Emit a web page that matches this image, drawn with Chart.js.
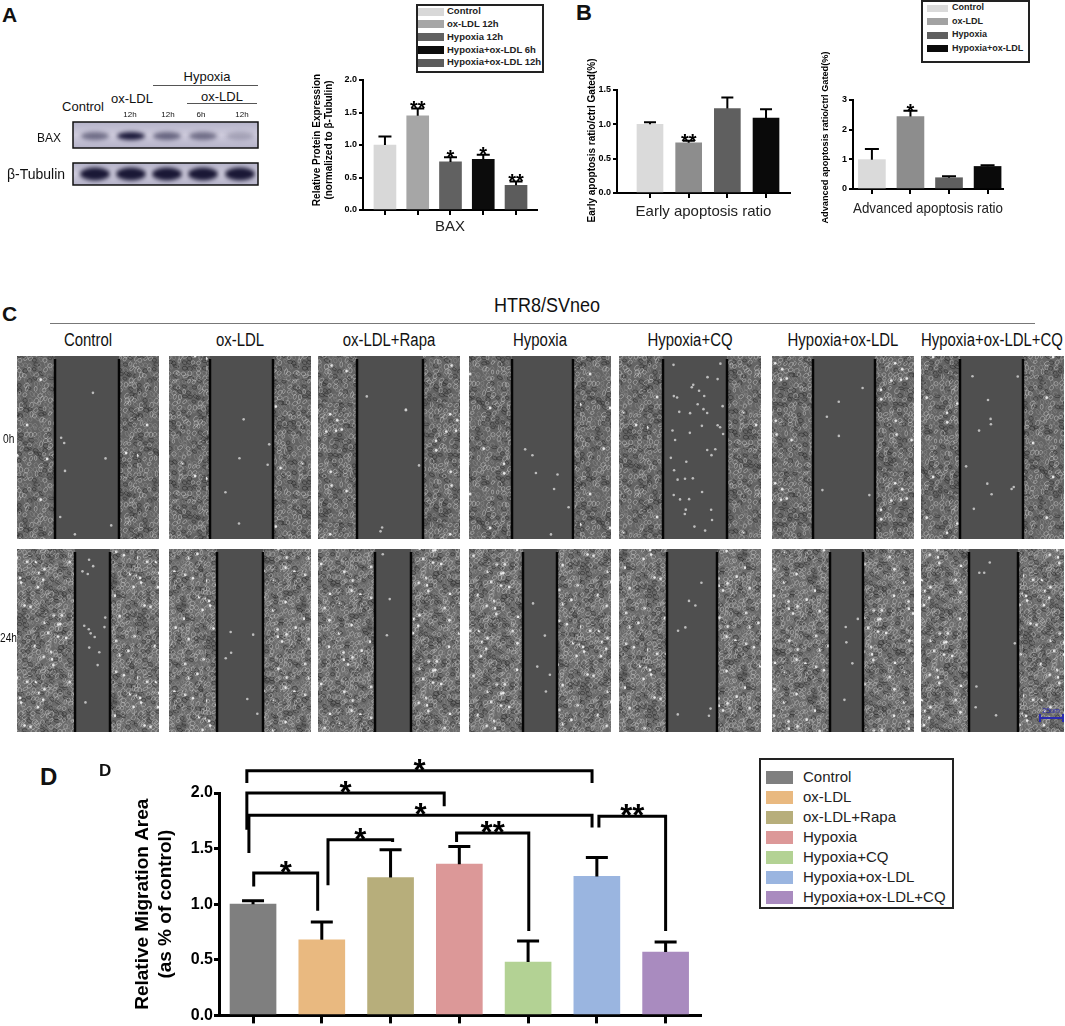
<!DOCTYPE html>
<html>
<head>
<meta charset="utf-8">
<script src="https://cdn.jsdelivr.net/npm/chart.js@4.4.1/dist/chart.umd.min.js"></script>
<style>
    body { margin: 0; background: #fff; }
    #fig { position: relative; width: 1065px; height: 1026px; overflow: hidden; font-family: "Liberation Sans", Arial, sans-serif; color: #111; }
    #fig canvas, .t, .legend, .hline { position: absolute; }
    .t { white-space: nowrap; line-height: 1; }
    .c { transform: translateX(-50%); }
    .b { font-weight: bold; }
    .nc { transform: translateX(-50%) scaleX(0.83); }
    .nl { transform: scaleX(0.85); transform-origin: left center; }
    .legend { border: 2px solid #222; box-sizing: border-box; background: #fff; }
    .legend div { position: absolute; white-space: nowrap; }
    .hline { height: 0; }
</style>
</head>
<body>
<div id="fig">
    <canvas id="blot" width="270" height="80" style="left:0;top:115px"></canvas>
    <canvas id="photos" width="1065" height="390" style="left:0;top:350px"></canvas>
    <canvas id="chartA" width="250" height="170" style="left:295px;top:70px"></canvas>
    <canvas id="chartB1" width="225" height="190" style="left:575px;top:40px"></canvas>
    <canvas id="chartB2" width="205" height="190" style="left:810px;top:40px"></canvas>
    <canvas id="chartD" width="620" height="281" style="left:100px;top:745px"></canvas>
    <div id="legA" class="legend" style="left:416px;top:4px;width:128px;height:69px"></div>
    <div id="legB" class="legend" style="left:921px;top:0;width:109px;height:63px"></div>
    <div id="legD" class="legend" style="left:759px;top:758px;width:195px;height:151px"></div>
    <div class="hline" style="left:153px;top:85px;width:105px;border-top:1px solid #555"></div>
    <div class="hline" style="left:187px;top:103px;width:70px;border-top:1px solid #555"></div>
    <div class="hline" style="left:50px;top:323px;width:985px;border-top:1.5px solid #777"></div>
</div>
<script>
// panel A - BAX western blot quantification
const bax_groups = ["Control", "ox-LDL 12h", "Hypoxia 12h", "Hypoxia+ox-LDL 6h", "Hypoxia+ox-LDL 12h"];
const bax_values = [1.00, 1.45, 0.74, 0.78, 0.38];
const bax_errors = [0.13, 0.11, 0.07, 0.07, 0.06];
const bax_marks = ["", "**", "*", "*", "**"];
const bax_ticks = [0, 0.5, 1.0, 1.5, 2.0];
const bax_colors = ["#d8d8d8", "#a6a6a6", "#616161", "#0c0c0c", "#5c5c5c"];

// panel B - apoptosis ratios
const apo_groups = ["Control", "ox-LDL", "Hypoxia", "Hypoxia+ox-LDL"];
const early_values = [1.00, 0.73, 1.23, 1.09];
const early_errors = [0.03, 0.03, 0.16, 0.13];
const early_marks = ["", "**", "", ""];
const early_ticks = [0, 0.5, 1.0, 1.5];
const adv_values = [0.99, 2.44, 0.38, 0.76];
const adv_errors = [0.36, 0.20, 0.05, 0.04];
const adv_marks = ["", "*", "", ""];
const adv_ticks = [0, 1, 2, 3];
const apo_colors = ["#dadada", "#8d8d8d", "#5f5f5f", "#0a0a0a"];
const apo_legend_colors = ["#dadada", "#a2a2a2", "#5f5f5f", "#0a0a0a"];

// panel D - relative migration area
const mig_groups = ["Control", "ox-LDL", "ox-LDL+Rapa", "Hypoxia", "Hypoxia+CQ", "Hypoxia+ox-LDL", "Hypoxia+ox-LDL+CQ"];
const mig_values = [1.00, 0.68, 1.24, 1.36, 0.48, 1.25, 0.57];
const mig_errors = [0.03, 0.16, 0.25, 0.16, 0.19, 0.17, 0.09];
const mig_ticks = [0, 0.5, 1.0, 1.5, 2.0];
const mig_colors = ["#7f7f7f", "#e9b980", "#b7ae7b", "#dc9898", "#b3d294", "#9ab5e0", "#a98bbf"];

// significance brackets of panel D (x in group index, y in data units)
const sig_from = [-0.09, -0.09, -0.06, 1.09, 0.01, 2.96, 5.03];
const sig_to = [4.93, 2.78, 4.93, 2.03, 0.94, 4.01, 6.0];
const sig_level = [2.20, 2.00, 1.80, 1.58, 1.28, 1.64, 1.79];
const sig_from_end = [2.09, 1.67, 1.46, 1.17, 1.16, 1.56, 1.69];
const sig_to_end = [2.09, 1.88, 1.69, 1.56, 0.94, 0.76, 0.76];
const sig_marks = ["*", "*", "*", "*", "*", "**", "**"];

// picture layout of the blot and the scratch photos
const band_x = [95, 131, 167, 203, 240];
const bax_band = [0.5, 0.97, 0.55, 0.5, 0.22];
const photo_left = [17, 169, 318, 469, 619, 772, 921];
const photo_rows = [6, 199];
const gap_0h = [[38, 102], [41, 104], [39, 105], [43, 104], [44, 108], [41, 103], [39, 102]];
const gap_24h = [[58, 93], [48, 94], [57, 93], [54, 88], [48, 98], [58, 91], [48, 97]];
const dots_0h = [8, 6, 6, 7, 42, 6, 12];
const dots_24h = [14, 6, 3, 5, 8, 5, 7];

const FONT = "'Liberation Sans', Arial, Helvetica, sans-serif";
Chart.defaults.font.family = FONT;
Chart.defaults.color = "#000";

const fig = document.getElementById("fig");

function addText(txt, x, cy, size, cls) {
    let d = document.createElement("div");
    d.className = "t " + (cls || "");
    d.textContent = txt;
    d.style.left = x + "px";
    d.style.top = (cy - 0.48 * size) + "px";
    d.style.fontSize = size + "px";
    fig.appendChild(d);
    return d;
}

function buildLegend(id, groups, colors, o) {
    let el = document.getElementById(id);
    groups.forEach(function(g, i) {
        let cy = o.firstRow + i * o.rowStep;
        let sw = document.createElement("div");
        sw.style.cssText = "left:" + o.swLeft + "px;top:" + (cy - o.swH / 2) + "px;width:" + o.swW + "px;height:" + o.swH + "px;background:" + colors[i];
        let tx = document.createElement("div");
        tx.textContent = g;
        tx.style.cssText = "left:" + o.textLeft + "px;top:" + (cy - o.fs * 0.55) + "px;font:" + o.weight + " " + o.fs + "px " + FONT + ";line-height:" + o.fs + "px;color:#222";
        el.append(sw, tx);
    });
}

// error bars, stars and the rotated y title
function errBars(p) {
    return {
        id: "errbars",
        afterDatasetsDraw(chart) {
            let ctx = chart.ctx;
            let ys = chart.scales.y;
            let meta = chart.getDatasetMeta(0);
            ctx.save();
            ctx.strokeStyle = "#000";
            ctx.fillStyle = "#000";
            ctx.lineWidth = p.errWidth;
            meta.data.forEach(function(bar, i) {
                let top = ys.getPixelForValue(p.values[i] + p.errors[i]);
                ctx.beginPath();
                ctx.moveTo(bar.x, bar.y);
                ctx.lineTo(bar.x, top);
                ctx.moveTo(bar.x - p.cap / 2, top);
                ctx.lineTo(bar.x + p.cap / 2, top);
                ctx.stroke();
                if (p.marks && p.marks[i]) {
                    ctx.font = "bold " + p.markSize + "px " + FONT;
                    ctx.textAlign = "center";
                    ctx.textBaseline = "alphabetic";
                    ctx.fillText(p.marks[i], bar.x, top - p.markGap + 0.58 * p.markSize);
                }
            });
            ctx.restore();
        },
        afterDraw(chart) {
            let ctx = chart.ctx;
            let a = chart.chartArea;
            let lines = [].concat(p.yTitle);
            ctx.save();
            ctx.translate(p.yTitleX, (a.top + a.bottom) / 2 + (p.yTitleShift || 0));
            ctx.rotate(-Math.PI / 2);
            ctx.font = "bold " + p.yTitleSize + "px " + FONT;
            ctx.fillStyle = "#000";
            ctx.textAlign = "center";
            ctx.textBaseline = "middle";
            lines.forEach(function(l, j) { ctx.fillText(l, 0, j * p.yTitleSize * 1.2); });
            ctx.restore();
        }
    };
}

const brackets = {
    id: "brackets",
    afterDraw(chart) {
        let ctx = chart.ctx;
        let xs = chart.scales.x, ys = chart.scales.y;
        ctx.save();
        ctx.strokeStyle = "#000";
        ctx.fillStyle = "#000";
        ctx.lineWidth = 3;
        ctx.font = "bold 31px " + FONT;
        ctx.textAlign = "center";
        ctx.textBaseline = "alphabetic";
        for (let i = 0; i < sig_from.length; i++) {
            let x1 = xs.getPixelForValue(sig_from[i]);
            let x2 = xs.getPixelForValue(sig_to[i]);
            let yb = ys.getPixelForValue(sig_level[i]);
            ctx.beginPath();
            ctx.moveTo(x1, ys.getPixelForValue(sig_from_end[i]));
            ctx.lineTo(x1, yb);
            ctx.lineTo(x2, yb);
            ctx.lineTo(x2, ys.getPixelForValue(sig_to_end[i]));
            ctx.stroke();
            ctx.fillText(sig_marks[i], (x1 + x2) / 2, yb - 8 + 0.58 * 31);
        }
        ctx.restore();
    }
};

function barChart(id, p, extra) {
    let canvas = document.getElementById(id);
    let W = canvas.width, H = canvas.height;
    let plugins = [errBars(p)];
    if (extra) plugins.push(extra);
    return new Chart(canvas, {
        type: "bar",
        data: {
            labels: p.groups,
            datasets: [{
                data: p.values.map(function(v, i) { return {x: i, y: v}; }),
                backgroundColor: p.colors,
                barThickness: p.barWidth,
                borderWidth: 0
            }]
        },
        options: {
            responsive: false,
            animation: false,
            layout: {padding: {top: p.area[1], right: W - p.area[2], left: 0, bottom: 0}},
            plugins: {legend: {display: false}, tooltip: {enabled: false}},
            scales: {
                x: {
                    type: "linear",
                    offset: false,
                    min: p.xRange[0],
                    max: p.xRange[1],
                    afterBuildTicks: function(s) { s.ticks = p.groups.map(function(g, i) { return {value: i}; }); },
                    afterFit: function(s) { s.height = H - p.area[3]; },
                    ticks: {display: false},
                    grid: {offset: false, drawOnChartArea: false, drawTicks: true, tickLength: p.xTickLen, lineWidth: p.axisWidth, color: "#000"},
                    border: {display: true, color: "#000", width: p.axisWidth},
                    title: {
                        display: !!p.xTitle,
                        text: p.xTitle,
                        color: "#222",
                        font: {size: p.xTitleSize, lineHeight: 1.2},
                        padding: {top: 0, bottom: p.xTitlePad}
                    }
                },
                y: {
                    min: 0,
                    max: p.yMax,
                    afterBuildTicks: function(s) { s.ticks = p.ticks.map(function(v) { return {value: v}; }); },
                    afterFit: function(s) { s.width = p.area[0]; },
                    ticks: {
                        callback: function(v) { return v.toFixed(p.digits); },
                        font: {size: p.tickSize, weight: "bold"},
                        color: "#000",
                        padding: p.tickPad
                    },
                    grid: {drawOnChartArea: false, drawTicks: true, tickLength: p.yTickLen, lineWidth: p.axisWidth, color: "#000"},
                    border: {display: true, color: "#000", width: p.axisWidth},
                    title: {display: false}
                }
            }
        },
        plugins: plugins
    });
}

function hash(n) {
    let s = Math.sin(n * 127.1 + 311.7) * 43758.5453;
    return s - Math.floor(s);
}

function cellTexture(seed, base, step, bright) {
    let t = document.createElement("canvas");
    t.width = 120;
    t.height = 120;
    let c = t.getContext("2d");
    c.fillStyle = base;
    c.fillRect(0, 0, 120, 120);
    let k = seed;
    for (let gy = -3; gy < 124; gy += step) {
        for (let gx = -3; gx < 124; gx += step) {
            let r1 = hash(k++), r2 = hash(k++), r3 = hash(k++);
            let cx = gx + r1 * 3, cy = gy + r2 * 3;
            c.strokeStyle = r3 > 0.5 ? "rgba(205,205,205,0.55)" : (r3 > 0.25 ? "rgba(150,150,150,0.5)" : "rgba(35,35,35,0.55)");
            c.lineWidth = 0.9;
            c.beginPath();
            c.ellipse(cx, cy, 1.8 + r1 * 1.2, 1.2 + r2 * 1.0, r3 * 3, 0, Math.PI * 2);
            c.stroke();
            if (r3 > 1 - bright) {
                c.fillStyle = "rgba(245,245,245,0.9)";
                c.beginPath();
                c.arc(cx + 1, cy, 1.3, 0, Math.PI * 2);
                c.fill();
            }
        }
    }
    return t;
}

function drawPhotos() {
    let ctx = document.getElementById("photos").getContext("2d");
    let tex = [cellTexture(11, "#646464", 5, 0.04), cellTexture(97, "#6a6a6a", 4.5, 0.06)];
    let h = 183;
    photo_rows.forEach(function(top, r) {
        let gaps = r === 0 ? gap_0h : gap_24h;
        let dots = r === 0 ? dots_0h : dots_24h;
        photo_left.forEach(function(left, i) {
            let w = i === photo_left.length - 1 ? 143 : 142;
            let pat = ctx.createPattern(tex[r], "repeat");
            pat.setTransform(new DOMMatrix().translate(left + i * 37, top + i * 23));
            ctx.fillStyle = pat;
            ctx.fillRect(left, top, w, h);
            let g0 = left + gaps[i][0], g1 = left + gaps[i][1];
            ctx.fillStyle = "#4f4f4f";
            ctx.fillRect(g0, top, g1 - g0, h);
            ctx.fillStyle = "rgba(225,225,225,0.75)";
            for (let d = 0; d < dots[i]; d++) {
                let px = g0 + 3 + hash(i * 311 + d * 7 + r * 1000) * (g1 - g0 - 6);
                let py = top + 4 + hash(i * 173 + d * 13 + r * 2000 + 5) * (h - 8);
                ctx.beginPath();
                ctx.arc(px, py, 1.3, 0, Math.PI * 2);
                ctx.fill();
            }
            ctx.strokeStyle = "#050505";
            ctx.lineWidth = 2.5;
            ctx.beginPath();
            ctx.moveTo(g0, top + 3);
            ctx.lineTo(g0, top + h);
            ctx.moveTo(g1, top + 3);
            ctx.lineTo(g1, top + h);
            ctx.stroke();
        });
    });
    // scale bar
    ctx.strokeStyle = "#2b2bb0";
    ctx.lineWidth = 2;
    ctx.beginPath();
    ctx.moveTo(1040, 368);
    ctx.lineTo(1063, 368);
    ctx.moveTo(1040, 364);
    ctx.lineTo(1040, 372);
    ctx.moveTo(1063, 364);
    ctx.lineTo(1063, 372);
    ctx.stroke();
}

function drawBlot() {
    let c = document.getElementById("blot").getContext("2d");
    [[7, 26], [48, 22]].forEach(function(b) {
        let g = c.createLinearGradient(0, b[0], 0, b[0] + b[1]);
        g.addColorStop(0, "#b5b3c9");
        g.addColorStop(0.5, "#cecbdc");
        g.addColorStop(1, "#b5b3c9");
        c.fillStyle = g;
        c.fillRect(73, b[0], 185, b[1]);
    });
    c.filter = "blur(2px)";
    band_x.forEach(function(x, i) {
        c.fillStyle = "rgba(20,18,52," + bax_band[i] + ")";
        c.beginPath();
        c.ellipse(x, 21, 14, 4, 0, 0, Math.PI * 2);
        c.fill();
        c.fillStyle = "rgba(16,14,44,0.95)";
        c.beginPath();
        c.ellipse(x, 59, 15, 6.5, 0, 0, Math.PI * 2);
        c.fill();
    });
    c.filter = "none";
    c.strokeStyle = "#111";
    c.lineWidth = 1.5;
    c.strokeRect(73, 7, 185, 26);
    c.strokeRect(73, 48, 185, 22);
}

// texts
addText("A", 2, 14.5, 21, "b");
addText("B", 576, 13, 22, "b");
addText("C", 2, 313.5, 21, "b");
addText("D", 40, 776.5, 24, "b");
addText("D", 99, 770.5, 17, "b");

addText("Hypoxia", 207, 76, 13, "c");
addText("ox-LDL", 222, 96, 13, "c");
addText("Control", 83, 106, 13, "c");
addText("ox-LDL", 132, 98, 13, "c");
addText("12h", 130, 115, 8, "c");
addText("12h", 168, 115, 8, "c");
addText("6h", 201, 115, 8, "c");
addText("12h", 242, 115, 8, "c");
addText("BAX", 37, 138, 12, "");
addText("β-Tubulin", 7, 174, 14, "");

addText("HTR8/SVneo", 547, 305, 20, "nc").style.transform = "translateX(-50%) scaleX(0.9)";
mig_groups.forEach(function(g, i) {
    addText(g, photo_left[i] + 71, 340, 18, "nc");
});
addText("0h", 3, 439, 12, "nl");
addText("24h", 0, 638, 12, "nl");
addText("25um", 1051, 710, 7, "c").style.color = "#2b2bb0";

buildLegend("legA", bax_groups, bax_colors, {firstRow: 5.7, rowStep: 12.75, swLeft: 0, swW: 26, swH: 8, textLeft: 29, fs: 9.5, weight: "bold"});
buildLegend("legB", apo_groups, apo_legend_colors, {firstRow: 6, rowStep: 13.5, swLeft: 4, swW: 21, swH: 7, textLeft: 29, fs: 9, weight: "bold"});
buildLegend("legD", mig_groups, mig_colors, {firstRow: 17, rowStep: 20, swLeft: 5, swW: 27, swH: 13, textLeft: 42, fs: 15, weight: "normal"});

drawBlot();
drawPhotos();

barChart("chartA", {
    groups: bax_groups, values: bax_values, errors: bax_errors, marks: bax_marks, colors: bax_colors,
    ticks: bax_ticks, yMax: 2, digits: 1,
    area: [68, 10, 242, 140], xRange: [-0.67, 4.64],
    barWidth: 22, axisWidth: 2, xTickLen: 5, yTickLen: 4, tickPad: 2, tickSize: 9,
    cap: 13, errWidth: 2, markSize: 20, markGap: 5,
    yTitle: ["Relative Protein Expression", "(normalized to β-Tubulin)"], yTitleSize: 10, yTitleX: 22, yTitleShift: -5,
    xTitle: "BAX", xTitleSize: 15, xTitlePad: 4
});

barChart("chartB1", {
    groups: apo_groups, values: early_values, errors: early_errors, marks: early_marks, colors: apo_colors,
    ticks: early_ticks, yMax: 1.5, digits: 1,
    area: [42, 50, 215, 153], xRange: [-0.853, 3.62],
    barWidth: 26, axisWidth: 2, xTickLen: 5, yTickLen: 4, tickPad: 2, tickSize: 9,
    cap: 12, errWidth: 2, markSize: 20, markGap: 4.5,
    yTitle: "Early apoptosis ratio/ctrl Gated(%)", yTitleSize: 10, yTitleX: 17, yTitleShift: -1,
    xTitle: "Early apoptosis ratio", xTitleSize: 15, xTitlePad: 9
});

barChart("chartB2", {
    groups: apo_groups, values: adv_values, errors: adv_errors, marks: adv_marks, colors: apo_colors,
    ticks: adv_ticks, yMax: 3, digits: 0,
    area: [43, 60, 193, 149], xRange: [-0.49, 3.4],
    barWidth: 27, axisWidth: 2, xTickLen: 5, yTickLen: 4, tickPad: 2, tickSize: 9,
    cap: 14, errWidth: 2, markSize: 20, markGap: 4,
    yTitle: "Advanced apoptosis ratio/ctrl Gated(%)", yTitleSize: 9.2, yTitleX: 15, yTitleShift: -7,
    xTitle: "Advanced apoptosis ratio", xTitleSize: 15, xTitlePad: 12
});

barChart("chartD", {
    groups: mig_groups, values: mig_values, errors: mig_errors, marks: null, colors: mig_colors,
    ticks: mig_ticks, yMax: 2, digits: 1,
    area: [119, 48, 600, 273], xRange: [-0.495, 6.5],
    barWidth: 46, axisWidth: 3, xTickLen: 8, yTickLen: 5, tickPad: 1, tickSize: 16,
    cap: 22, errWidth: 3,
    yTitle: ["Relative Migration Area", "(as % of control)"], yTitleSize: 19, yTitleX: 43, yTitleShift: 0,
    xTitle: "", xTitleSize: 15, xTitlePad: 0
}, brackets);
</script>
</body>
</html>
